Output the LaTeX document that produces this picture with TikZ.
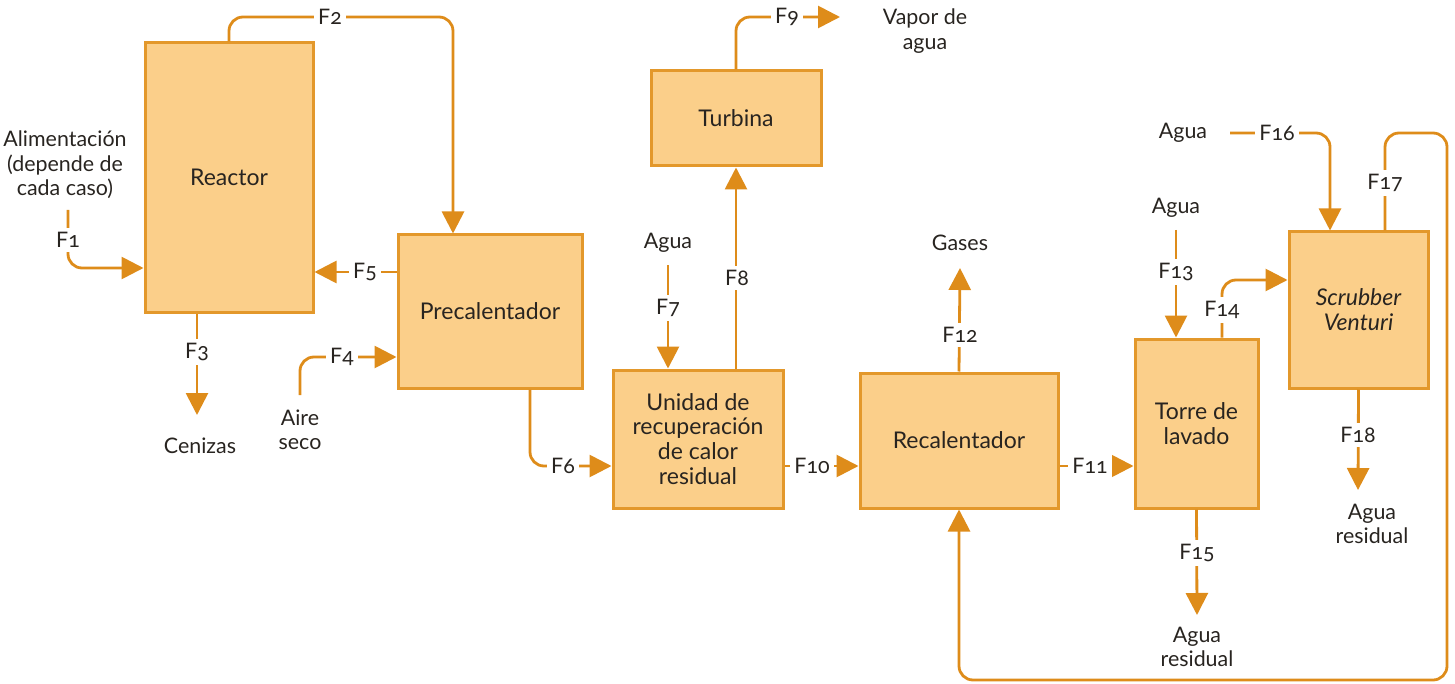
\documentclass[tikz,border=0pt]{standalone}
\usepackage{fontspec}
\setmainfont{Lato}[Numbers=OldStyle]
\usetikzlibrary{arrows.meta, positioning, calc}
\definecolor{boxfill}{RGB}{251, 207, 138}
\definecolor{boxline}{RGB}{227, 152, 43}
\definecolor{flowline}{RGB}{222, 140, 26}
\definecolor{txtdark}{RGB}{40, 36, 32}

\begin{document}
\begin{tikzpicture}[x=0.5pt, y=-0.5pt,
  every node/.style={font=\fontsize{10.7}{12.2}\selectfont, text=txtdark},
  unit/.style={draw=boxline, fill=boxfill, line width=1.5pt, align=center, inner sep=2pt,
    font=\fontsize{11.5}{12.4}\selectfont},
  flow/.style={draw=flowline, line width=1.4pt, rounded corners=7pt, -{Triangle[width=11pt,length=11pt]}},
  lbl/.style={fill=white, inner sep=2pt},
  txt/.style={align=center, inner sep=0pt}]
  \useasboundingbox (0,0) rectangle (1455,684);

  % Units
  \node[unit, minimum width=84pt, minimum height=134.5pt] (reactor) at (229,177.5) {Reactor};
  \node[unit, minimum width=92pt, minimum height=76.5pt] (precal) at (490,311.5) {Precalentador};
  \node[unit, minimum width=85pt, minimum height=69pt] (unidad) at (698,439) {Unidad de\\recuperación\\de calor\\residual};
  \node[unit, minimum width=85pt, minimum height=47.5pt] (turbina) at (736,118.5) {Turbina};
  \node[unit, minimum width=99pt, minimum height=67.5pt] (recal) at (959,440.5) {Recalentador};
  \node[unit, minimum width=61.5pt, minimum height=84.5pt] (torre) at (1196.5,423.5) {Torre de\\lavado};
  \node[unit, minimum width=69.5pt, minimum height=78pt] (scrub) at (1358.5,310) {\itshape Scrubber\\\itshape Venturi};

  % Inputs and outputs
  \node[txt] (alim) at (65,165) {Alimentación\\(depende de\\cada caso)};
  \node[txt] (cen) at (200,446) {Cenizas};
  \node[txt] (aire) at (300,430) {Aire\\seco};
  \node[txt] (agua7) at (668,243) {Agua};
  \node[txt] (vapor) at (925,31) {Vapor de\\agua};
  \node[txt] (gases) at (960,243) {Gases};
  \node[txt] (agua13) at (1176,208) {Agua};
  \node[txt] (agua16) at (1183,133) {Agua};
  \node[txt] (resid15) at (1197,647) {Agua\\residual};
  \node[txt] (resid18) at (1372,524) {Agua\\residual};

  % Free ends
  \coordinate (f1s) at (68,210);
  \coordinate (f3e) at (197,415);
  \coordinate (f4s) at (300,395);
  \coordinate (f7s) at (668,265);
  \coordinate (f9e) at (840,17);
  \coordinate (f12e) at (960,268);
  \coordinate (f13s) at (1176,230);
  \coordinate (f15e) at (1197,615);
  \coordinate (f16s) at (1230,133);
  \coordinate (f18e) at (1358,490);
  \coordinate (r1) at (1447,133);
  \coordinate (r2) at (1447,680);

  % Streams
  \draw[flow] (f1s) |- (reactor.west |- 0,268);
  \draw[flow] (reactor.north) |- (453,17) -- (precal.north -| 453,0);
  \draw[flow] (reactor.south -| f3e) -- (f3e);
  \draw[flow] (f4s) |- (precal.west |- 0,357);
  \draw[flow] (precal.west |- 0,272) -- (reactor.east |- 0,272);
  \draw[flow] (precal.south -| 530,0) |- (unidad.west |- 0,466);
  \draw[flow] (f7s) -- (unidad.north -| f7s);
  \draw[flow] (unidad.north -| turbina.south) -- (turbina.south);
  \draw[flow] (turbina.north) |- (f9e);
  \draw[flow] (unidad.east |- 0,466) -- (recal.west |- 0,466);
  \draw[flow] (recal.north) -- (f12e);
  \draw[flow] (recal.east |- 0,466) -- (torre.west |- 0,466);
  \draw[flow] (f13s) -- (torre.north -| f13s);
  \draw[flow] (torre.north -| 1222,0) |- (scrub.west |- 0,280);
  \draw[flow] (torre.south) -- (f15e);
  \draw[flow] (f16s) -| (scrub.north -| 1330,0);
  \draw[flow] (scrub.north -| 1385,0) |- (r1) -- (r2) -| (recal.south);
  \draw[flow] (scrub.south) -- (f18e);

  % Stream labels
  \node[lbl] (lf1) at (68,240) {F1};
  \node[lbl] (lf2) at (330,17) {F2};
  \node[lbl] (lf3) at (197,352) {F3};
  \node[lbl] (lf4) at (342,357) {F4};
  \node[lbl] (lf5) at (365,272) {F5};
  \node[lbl] (lf6) at (563,466) {F6};
  \node[lbl] (lf7) at (668,308) {F7};
  \node[lbl] (lf8) at (737,278) {F8};
  \node[lbl] (lf9) at (787,17) {F9};
  \node[lbl] (lf10) at (812,466) {F10};
  \node[lbl] (lf11) at (1090,466) {F11};
  \node[lbl] (lf12) at (960,335) {F12};
  \node[lbl] (lf13) at (1176,272) {F13};
  \node[lbl] (lf14) at (1222,310) {F14};
  \node[lbl] (lf15) at (1197,553) {F15};
  \node[lbl] (lf16) at (1277,133) {F16};
  \node[lbl] (lf17) at (1385,183) {F17};
  \node[lbl] (lf18) at (1358,435) {F18};
\end{tikzpicture}
\end{document}
